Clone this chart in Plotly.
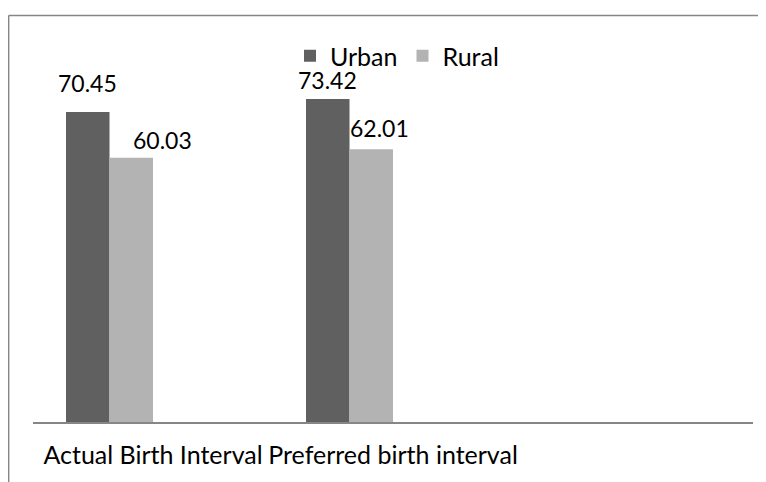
import plotly.graph_objects as go

categories = ["Actual Birth Interval", "Preferred birth interval"]
urban = [70.45, 73.42]
rural = [60.03, 62.01]
series_names = ["Urban", "Rural"]
colors = ["#606060", "#b3b3b3"]

FONT = "Lato"
BODY = 8  # default page margin around the plot div
W, H = 766 - BODY, 482 - BODY
ML, MR, MT, MB = 33 - BODY, 13, 70 - BODY, 60

xpos = list(range(len(categories)))

fig = go.Figure()
bar_w = 0.18125
offsets = [-0.3625, -0.18125]
for name, vals, col, off in zip(series_names, [urban, rural], colors, offsets):
    fig.add_trace(go.Bar(
        x=xpos, y=vals, name=name,
        marker=dict(color=col, line=dict(width=0)),
        width=bar_w, offset=off,
    ))

# data labels (Excel-style, rural labels nudged right)
label_xshift = [[0, 0], [31, 8]]
label_yshift = [[29, 19], [18, 21]]
for si, (vals, off) in enumerate(zip([urban, rural], offsets)):
    for ci, v in enumerate(vals):
        fig.add_annotation(
            x=xpos[ci] + off + bar_w / 2, y=v, xref="x", yref="y",
            text=f"{v:.2f}", showarrow=False,
            xshift=label_xshift[si][ci], yshift=label_yshift[si][ci],
            font=dict(family=FONT, size=23, color="#000000"),
        )

pw = W - ML - MR
ph = H - MT - MB
def px_x(p):  # p in reference page pixels
    return (p - BODY - ML) / pw
def px_y(p):
    return (H - MB - (p - BODY)) / ph

frame_col = "#868686"
fig.add_shape(type="line", xref="paper", yref="paper",
              x0=px_x(8.6), x1=px_x(8.6), y0=px_y(15.5), y1=px_y(500),
              line=dict(color=frame_col, width=1.6))
fig.add_shape(type="line", xref="paper", yref="paper",
              x0=px_x(8.6), x1=px_x(780), y0=px_y(15.5), y1=px_y(15.5),
              line=dict(color=frame_col, width=1.6))

fig.update_layout(
    width=W, height=H,
    margin=dict(l=ML, r=MR, t=MT, b=MB, pad=0, autoexpand=False),
    paper_bgcolor="white", plot_bgcolor="white",
    font=dict(family=FONT, size=25, color="#000000"),
    showlegend=True,
    legend=dict(orientation="h", x=px_x(290), xanchor="left",
                y=px_y(56), yanchor="middle",
                font=dict(family=FONT, size=25),
                itemwidth=30, bgcolor="rgba(0,0,0,0)"),
    xaxis=dict(type="linear", range=[-0.5, 2.5], showgrid=False, zeroline=False,
               showline=True, linecolor=frame_col, linewidth=1.6,
               tickmode="array", tickvals=xpos, ticktext=categories,
               tickangle=0, automargin=False,
               ticks="outside", ticklen=10, tickcolor="rgba(0,0,0,0)",
               tickfont=dict(family=FONT, size=25)),
    yaxis=dict(range=[0, 80], visible=False, showgrid=False, zeroline=False,
               automargin=False),
)

fig.write_html("out.html")
